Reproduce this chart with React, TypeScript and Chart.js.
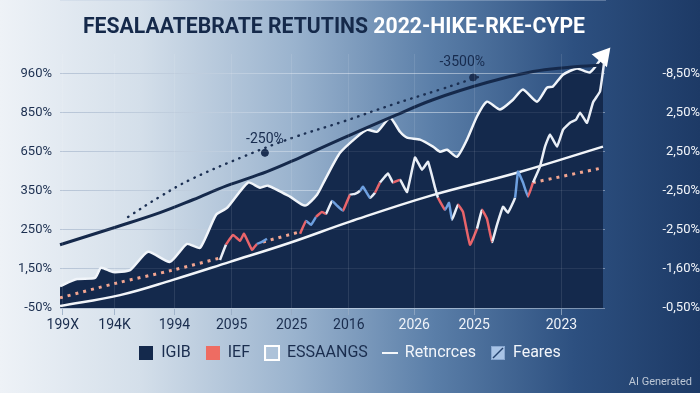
import React, { useEffect, useRef } from "react";
import { Chart, registerables } from "chart.js";
Chart.register(...registerables);

const TITLE_DARK = "FESALAATEBRATE RETUTINS ";
const TITLE_LIGHT = "2022-HIKE-RKE-CYPE";

const leftTickLabels = ["-50%", "1,50%", "250%", "350%", "650%", "850%", "960%"];
const rightTickLabels = ["-0,50%", "-1,60%", "-2,50%", "-2,50%", "2,50%", "2,50%", "-8,50%"];
const xTickValues = [0.5, 10, 21, 31.5, 42.5, 53, 65, 76, 92];
const xTickLabels = ["199X", "194K", "1994", "2095", "2025", "2016", "2026", "2025", "2023"];
const xTickColors = ["#1a2d4e", "#1a2d4e", "#1a2d4e", "#1a2d4e", "#1a2d4e", "#1a2d4e", "#eef2f8", "#eef2f8", "#eef2f8"];

const legendLabels = ["IGIB", "IEF", "ESSAANGS", "Retncrces", "Feares"];
const legendTextColors = ["#1a2d4e", "#1a2d4e", "#1a2d4e", "#f2f5fa", "#f2f5fa"];

// IGIB area (white outline, dark fill)
const igibX = [0, 3.12, 6.42, 7.52, 9.72, 12.84, 16.15, 20.18, 23.3, 25.69, 28.62, 30.64, 34.5, 36.7, 38.17, 42.2, 44.95, 47.16, 48.62, 51.38, 54.5, 56.33, 58.17, 60.55, 62.39, 63.67, 66.06, 68.44, 69.72, 71.01, 72.84, 74.68, 76.51, 78.35, 80.73, 83.12, 84.95, 87.52, 89.36, 90.46, 92.29, 94.86, 97.25, 99.63];
const igibY = [0.56, 0.74, 0.77, 1.03, 0.92, 0.97, 1.44, 1.18, 1.64, 1.54, 2.38, 2.56, 3.21, 3.08, 3.13, 2.85, 2.62, 2.9, 3.28, 3.97, 4.38, 4.56, 4.51, 4.87, 4.51, 4.36, 4.31, 4.13, 4.0, 4.05, 3.87, 4.31, 4.9, 5.28, 5.08, 5.33, 5.59, 5.28, 5.64, 5.67, 5.97, 6.13, 6.03, 6.44];

// dark navy trend line
const trendX = [0, 10.46, 18.35, 24.4, 30.64, 37.98, 44.04, 50.09, 55.05, 60.55, 68.44, 78.35, 86.79, 92.66, 99.08];
const trendY = [1.62, 2.08, 2.44, 2.77, 3.13, 3.49, 3.85, 4.23, 4.54, 4.87, 5.33, 5.77, 6.05, 6.15, 6.21];

// dark dotted line
const dotX = [12.48, 18.35, 23.85, 33.58, 42.75, 51.93, 61.1, 69.72, 77.61];
const dotY = [2.33, 2.85, 3.28, 3.87, 4.36, 4.77, 5.21, 5.59, 5.95];

// white baseline
const baseX = [0, 11.01, 20.73, 31.19, 42.2, 53.21, 67.89, 83.85, 99.63];
const baseY = [0.05, 0.33, 0.72, 1.18, 1.67, 2.21, 2.87, 3.46, 4.13];

// IEF salmon dotted
const iefX = [0, 10.46, 20.73, 29.36, 31, 37.25, 44.04, 46, 86.79, 99.63];
const iefY = [0.26, 0.64, 0.97, 1.28, null, 1.69, 1.95, null, 3.21, 3.59];

// jagged multi-colour line
const jagX = [29.36, 30.46, 31.74, 33.03, 33.76, 35.23, 36.15, 37.06, 37.98, 40, 44.04, 45.14, 46.06, 46.97, 48.07, 48.81, 49.91, 50.83, 51.93, 53.21, 54.13, 55.05, 55.6, 56.88, 57.8, 58.72, 60.18, 61.1, 62.39, 63.67, 65.14, 66.42, 67.52, 68.81, 69.36, 70.64, 71.38, 71.93, 73.03, 73.94, 75.23, 76.51, 77.43, 78.35, 79.27, 80.18, 81.28, 82.2, 83.49, 84.04, 84.95, 85.87, 86.79, 88.07, 88.99, 89.91, 91.19, 92.29, 93.58, 94.68, 95.41, 96.7, 97.8, 99.08, 99.82];
const jagY = [1.23, 1.62, 1.87, 1.72, 1.9, 1.49, 1.64, 1.69, 1.77, null, 1.9, 2.23, 2.13, 2.33, 2.46, 2.41, 2.74, 2.62, 2.49, 2.9, 2.92, 3.0, 3.1, 2.82, 2.95, 3.21, 3.44, 3.21, 3.28, 2.97, 3.85, 3.54, 3.74, 3.08, 2.82, 2.51, 2.69, 2.26, 2.64, 2.46, 1.62, 2.03, 2.51, 2.28, 1.69, 2.13, 2.59, 2.44, 2.82, 3.49, 3.21, 2.85, 3.21, 3.62, 4.13, 4.44, 4.13, 4.56, 4.74, 4.82, 5.0, 4.74, 5.26, 5.54, 6.26];
const jagColors = ("WRRRRRBBBW" + "RBBRRWBBRWWBBWRWWRWWWWWWRBBWRRRWRRWWWWBBBR" + "WWWWWWWWWWWWW").split("");

// annotations
const annX = [37.6, 75.8];
const annY = [3.97, 5.9];
const annLabelX = [37.6, 73.8];
const annLabelY = [4.31, 6.28];
const annLabels = ["-250%", "-3500%"];

const NAVY = "#14294c";
const segColor = (c: string) => (c === "R" ? "#e8646a" : c === "B" ? "#6ea0e0" : "#e9eef6");
const pts = (xs: number[], ys: (number | null)[]) => xs.map((x, i) => ({ x, y: ys[i] }));

export default function App() {
  const ref = useRef<HTMLCanvasElement>(null);
  useEffect(() => {
    document.body.style.margin = "0";
    const canvas = ref.current!;

    const mk = (w: number, h: number, draw: (c: CanvasRenderingContext2D) => void) => {
      const c = document.createElement("canvas");
      c.width = w;
      c.height = h;
      draw(c.getContext("2d")!);
      return c;
    };
    const icons = [
      mk(14, 14, (c) => { c.fillStyle = NAVY; c.fillRect(0, 0, 14, 14); }),
      mk(14, 14, (c) => { c.fillStyle = "#ee6c62"; c.fillRect(0, 0, 14, 14); }),
      mk(16, 16, (c) => { c.fillStyle = "rgba(180,200,222,0.6)"; c.fillRect(1, 1, 14, 14); c.strokeStyle = "#ffffff"; c.lineWidth = 2; c.strokeRect(1, 1, 14, 14); }),
      mk(16, 2, (c) => { c.fillStyle = "#f4f7fb"; c.fillRect(0, 0, 16, 2); }),
      mk(16, 16, (c) => { c.fillStyle = "#a9c4e6"; c.fillRect(1, 1, 14, 14); c.strokeStyle = "#8aa8d0"; c.lineWidth = 1; c.strokeRect(1.5, 1.5, 13, 13); c.strokeStyle = "#25426e"; c.lineWidth = 1.5; c.beginPath(); c.moveTo(3, 13); c.lineTo(13, 3); c.stroke(); }),
    ];

    const bgPlugin = {
      id: "bg",
      beforeDraw(chart: any) {
        const { ctx, width, height } = chart;
        const g = ctx.createLinearGradient(0, 0, width, 0);
        g.addColorStop(0, "#eef2f7");
        g.addColorStop(0.2, "#d4dfea");
        g.addColorStop(0.42, "#9ab3ce");
        g.addColorStop(0.62, "#5a7ea8");
        g.addColorStop(0.82, "#2d5080");
        g.addColorStop(1, "#1d3a66");
        ctx.save();
        ctx.fillStyle = g;
        ctx.fillRect(0, 0, width, height);
        ctx.restore();
      },
      afterDatasetsDraw(chart: any) {
        const { ctx, scales } = chart;
        ctx.save();
        ctx.font = "14px Roboto";
        ctx.fillStyle = "#172b4e";
        ctx.textAlign = "center";
        ctx.textBaseline = "middle";
        annLabels.forEach((t, i) => {
          ctx.fillText(t, scales.x.getPixelForValue(annLabelX[i]), scales.y.getPixelForValue(annLabelY[i]));
        });
        ctx.restore();
      },
      afterDraw(chart: any) {
        const { ctx, width, height } = chart;
        ctx.save();
        ctx.font = "bold 22px Roboto";
        ctx.textBaseline = "middle";
        const w1 = ctx.measureText(TITLE_DARK).width;
        const w2 = ctx.measureText(TITLE_LIGHT).width;
        const s = 502 / (w1 + w2);
        ctx.translate(83, 27);
        ctx.scale(s, 1);
        ctx.fillStyle = "#15294a";
        ctx.fillText(TITLE_DARK, 0, 0);
        ctx.fillStyle = "#ffffff";
        ctx.fillText(TITLE_LIGHT, w1, 0);
        ctx.restore();
        ctx.save();
        ctx.font = "11px Roboto";
        ctx.fillStyle = "rgba(215,222,232,0.85)";
        ctx.textAlign = "right";
        ctx.textBaseline = "middle";
        ctx.fillText("AI Generated", width - 8, height - 11);
        ctx.restore();
      },
    };

    const gridGrad = (c: any) => {
      const ch = c.chart;
      const g = ch.ctx.createLinearGradient(0, 0, ch.width, 0);
      g.addColorStop(0, "rgba(150,168,192,0.75)");
      g.addColorStop(0.45, "rgba(205,218,234,0.6)");
      g.addColorStop(1, "rgba(255,255,255,0.25)");
      return g;
    };

    const yTicks = (s: any) => { s.ticks = leftTickLabels.map((_, i) => ({ value: i })); };

    const chart = new Chart(canvas, {
      type: "line",
      data: {
        datasets: [
          {
            label: "IGIB",
            data: pts(igibX, igibY),
            borderColor: "#f1f5fa",
            borderWidth: 2.5,
            backgroundColor: NAVY,
            fill: "start",
            tension: 0.2,
            borderJoinStyle: "round",
            pointRadius: (c: any) => (c.dataIndex === igibX.length - 1 ? 9 : 0),
            pointStyle: "triangle",
            rotation: 40,
            pointBackgroundColor: "#ffffff",
            pointBorderColor: "#ffffff",
            clip: false,
            order: 6,
          },
          {
            label: "trend",
            data: pts(trendX, trendY),
            borderColor: "#15294b",
            borderWidth: 3,
            tension: 0.4,
            pointRadius: 0,
            fill: false,
            clip: false,
            order: 5,
          },
          {
            label: "dotted",
            data: pts(dotX, dotY),
            borderColor: "#1b2f52",
            borderWidth: 2.4,
            borderDash: [0.5, 6.5],
            borderCapStyle: "round",
            tension: 0.4,
            pointRadius: 0,
            fill: false,
            order: 4,
          },
          {
            label: "ann",
            data: pts(annX, annY),
            showLine: false,
            pointRadius: 3.5,
            pointBackgroundColor: "#1b2f52",
            pointBorderColor: "#1b2f52",
            order: 3,
          },
          {
            label: "base",
            data: pts(baseX, baseY),
            borderColor: "#f2f5f9",
            borderWidth: 2.5,
            tension: 0.4,
            pointRadius: 0,
            fill: false,
            order: 2,
          },
          {
            label: "IEF",
            data: pts(iefX, iefY),
            borderColor: "#f2a590",
            borderWidth: 3,
            borderDash: [3, 5],
            tension: 0.3,
            pointRadius: 0,
            fill: false,
            spanGaps: false,
            order: 1,
          },
          {
            label: "jag",
            data: pts(jagX, jagY),
            borderColor: "#e9eef6",
            borderWidth: 2.5,
            tension: 0.1,
            pointRadius: 0,
            fill: false,
            spanGaps: false,
            clip: false,
            segment: { borderColor: (c: any) => segColor(jagColors[c.p0DataIndex]) },
            order: 0,
          },
        ] as any,
      },
      options: {
        responsive: true,
        maintainAspectRatio: false,
        animation: false,
        events: [],
        layout: { padding: { top: 54, bottom: 22, left: 0, right: 0 } },
        font: { family: "Roboto" },
        plugins: {
          tooltip: { enabled: false },
          legend: {
            position: "bottom",
            align: "center",
            labels: {
              usePointStyle: true,
              boxWidth: 14,
              boxHeight: 14,
              pointStyleWidth: 14,
              padding: 15,
              font: { family: "Roboto", size: 16 },
              generateLabels: () =>
                legendLabels.map((t, i) => ({
                  text: t,
                  fontColor: legendTextColors[i],
                  pointStyle: icons[i],
                  hidden: false,
                  lineWidth: 0,
                  datasetIndex: i,
                })) as any,
            },
          },
        },
        scales: {
          x: {
            type: "linear",
            min: 0,
            max: 100,
            afterBuildTicks: (s: any) => { s.ticks = xTickValues.map((v) => ({ value: v })); },
            afterFit: (s: any) => { s.height = 22; },
            ticks: {
              autoSkip: false,
              maxRotation: 0,
              padding: 2,
              callback: (_v: any, i: number) => xTickLabels[i],
              color: (c: any) => xTickColors[c.index],
              font: { family: "Roboto", size: 14 },
            },
            grid: { color: "rgba(255,255,255,0.1)", z: 1, tickLength: 7, tickColor: "rgba(150,170,195,0.8)" },
            border: { color: "rgba(190,205,225,0.7)" },
          },
          y: {
            position: "left",
            min: 0,
            max: 6.5,
            afterBuildTicks: yTicks,
            afterFit: (s: any) => { s.width = 60; },
            ticks: {
              autoSkip: false,
              padding: 8,
              callback: (_v: any, i: number) => leftTickLabels[i],
              color: "#1c2f50",
              font: { family: "Roboto", size: 13 },
            },
            grid: { drawTicks: false, color: gridGrad },
            border: { display: false },
          },
          yTop: {
            position: "left",
            min: 0,
            max: 6.5,
            afterBuildTicks: yTicks,
            afterFit: (s: any) => { s.width = 0; },
            ticks: { display: false },
            grid: { drawTicks: false, z: 1, color: "rgba(255,255,255,0.08)" },
            border: { display: false },
          },
          y2: {
            position: "right",
            min: 0,
            max: 6.5,
            afterBuildTicks: yTicks,
            afterFit: (s: any) => { s.width = 95; },
            ticks: {
              autoSkip: false,
              padding: 11,
              crossAlign: "far",
              callback: (_v: any, i: number) => rightTickLabels[i],
              color: "#f2f5fa",
              font: { family: "Roboto", size: 13 },
            },
            grid: { display: false },
            border: { display: false },
          },
        } as any,
      },
      plugins: [bgPlugin],
    });
    return () => chart.destroy();
  }, []);

  return (
    <div style={{ width: 700, height: 393, position: "relative" }}>
      <canvas ref={ref} />
    </div>
  );
}
